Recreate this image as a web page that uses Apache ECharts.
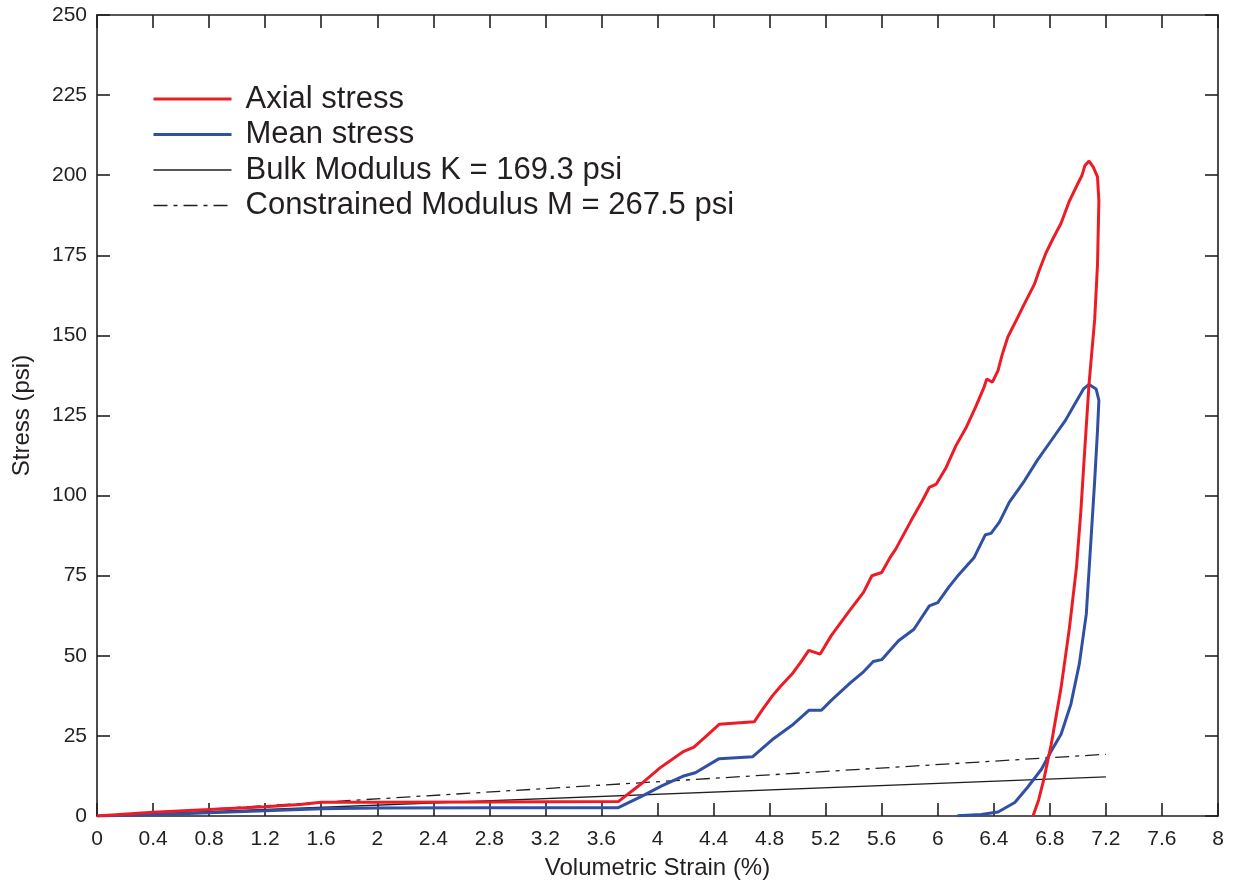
<!DOCTYPE html>
<html>
<head>
<meta charset="utf-8">
<script src="https://cdn.jsdelivr.net/npm/echarts@6/dist/echarts.min.js"></script>
<style>
html,body{margin:0;padding:0;background:#fff;}
#chart{width:1235px;height:886px;}
</style>
</head>
<body>
<div id="chart"></div>
<script>
// ---- data (x = volumetric strain %, y = stress psi) ----
var axialStress = [
  [0,0],[0.4,1.2],[0.8,2.0],[1.2,2.9],[1.45,3.6],[1.6,4.3],[2.0,4.3],[2.8,4.4],[3.72,4.5],
  [3.88,9.9],[4.02,15.1],[4.18,20.0],[4.26,21.5],[4.35,25],[4.44,28.6],[4.69,29.4],[4.75,33.3],
  [4.82,37.5],[4.88,40.6],[4.96,44.3],[5.02,47.9],[5.08,51.7],[5.16,50.5],[5.24,56.3],[5.36,63.5],
  [5.47,69.8],[5.53,75],[5.6,76],[5.66,80.7],[5.70,83.3],[5.81,92.2],[5.89,98.4],[5.94,102.6],
  [5.99,103.6],[6.06,108.8],[6.13,115.6],[6.2,121],[6.27,127.6],[6.33,133.8],[6.35,136.4],
  [6.39,135.4],[6.43,139],[6.46,144],[6.5,149.5],[6.56,154.7],[6.62,160],[6.69,166],[6.72,169.8],
  [6.77,175.5],[6.82,180],[6.88,185],[6.94,192],[7.0,197.4],[7.03,200],[7.05,203],[7.08,204.4],
  [7.11,202.5],[7.14,199.5],[7.15,192],[7.14,172],[7.12,155],[7.08,135],[7.05,115],[7.02,94.3],
  [6.99,77.6],[6.94,58.8],[6.88,40],[6.81,22.4],[6.76,12],[6.72,5],[6.68,0]
];
var meanStress = [
  [0,0],[0.4,0.4],[0.8,1.0],[1.2,1.6],[1.6,2.3],[2.0,2.5],[2.8,2.6],[3.72,2.6],[3.89,6.2],
  [4.03,9.4],[4.18,12.4],[4.27,13.5],[4.44,17.9],[4.68,18.5],[4.83,24.2],[4.96,28.3],[5.08,33],
  [5.17,33],[5.24,36.1],[5.38,41.7],[5.47,45],[5.54,48.2],[5.6,48.8],[5.72,54.7],[5.83,58.3],
  [5.94,65.6],[6.0,66.6],[6.08,71.5],[6.14,74.8],[6.26,80.7],[6.34,87.8],[6.38,88.2],[6.44,91.7],
  [6.51,97.9],[6.62,104.7],[6.71,111],[6.81,117.2],[6.91,123.4],[6.97,128],[7.04,133.3],
  [7.08,134.7],[7.13,133.3],[7.15,129.7],[7.14,120.3],[7.12,104.7],[7.09,83.8],[7.06,63],
  [7.01,47.4],[6.95,34.9],[6.88,25.5],[6.81,20.3],[6.74,14.6],[6.64,8.9],[6.55,4.2],[6.43,1.25],
  [6.31,0.5],[6.14,0.1]
];
var bulkModulusLine = [[0,0],[7.2,12.19]];
var constrainedModulusLine = [[0,0],[7.2,19.26]];
var seriesNames = ['Axial stress','Mean stress','Bulk Modulus K = 169.3 psi','Constrained Modulus M = 267.5 psi'];
var xTitle = 'Volumetric Strain (%)';
var yTitle = 'Stress (psi)';

var FONT = "'Liberation Sans', Arial, Helvetica, sans-serif";
var AX = '#231F20';
var RED = '#ED1C24', BLUE = '#3050A5';
var chart = echarts.init(document.getElementById('chart'), null, {renderer:'canvas'});

function axisCommon(show){
  return {
    axisLine:{show:true,onZero:false,lineStyle:{color:AX,width:1.6}},
    axisTick:{show:true,inside:true,length:13,lineStyle:{color:AX,width:1.6}},
    splitLine:{show:false},
    axisLabel:{show:show,color:AX,fontFamily:FONT,fontSize:21}
  };
}

var option = {
  animation:false,
  backgroundColor:'#fff',
  grid:{left:97,top:15,width:1121,height:801,containLabel:false},
  legend:{
    show:true,
    orient:'vertical',left:147,top:78,
    itemWidth:78,itemHeight:14,itemGap:3.5,
    itemStyle:{opacity:0},
    textStyle:{fontFamily:FONT,fontSize:31,color:AX,lineHeight:32,padding:[0,0,0,9]},
    data:[
      {name:seriesNames[0],lineStyle:{color:RED,width:3}},
      {name:seriesNames[1],lineStyle:{color:BLUE,width:3}},
      {name:seriesNames[2],lineStyle:{color:AX,width:1.3}},
      {name:seriesNames[3],lineStyle:{color:AX,width:1.3,type:[14,6,4,6]}}
    ]
  },
  xAxis:[
    Object.assign({type:'value',min:0,max:8,interval:0.4,position:'bottom',
      name:xTitle,nameLocation:'middle',nameGap:40,
      nameTextStyle:{fontFamily:FONT,fontSize:24,color:AX}}, axisCommon(true),
      {axisLabel:{show:true,color:AX,fontFamily:FONT,fontSize:21,margin:13}}),
    Object.assign({type:'value',min:0,max:8,interval:0.4,position:'top'}, axisCommon(false))
  ],
  yAxis:[
    Object.assign({type:'value',min:0,max:250,interval:25,position:'left',
      name:yTitle,nameLocation:'middle',nameGap:63,
      nameTextStyle:{fontFamily:FONT,fontSize:24,color:AX}}, axisCommon(true),
      {axisLabel:{show:true,color:AX,fontFamily:FONT,fontSize:21,margin:10}}),
    Object.assign({type:'value',min:0,max:250,interval:25,position:'right'}, axisCommon(false))
  ],
  series:[
    {name:seriesNames[0],type:'line',data:axialStress,showSymbol:false,symbol:'none',
      lineStyle:{color:RED,width:3},itemStyle:{color:RED},z:4},
    {name:seriesNames[1],type:'line',data:meanStress,showSymbol:false,symbol:'none',
      lineStyle:{color:BLUE,width:3},itemStyle:{color:BLUE},z:3},
    {name:seriesNames[2],type:'line',data:bulkModulusLine,showSymbol:false,symbol:'none',
      lineStyle:{color:AX,width:1.3},itemStyle:{color:AX},z:2},
    {name:seriesNames[3],type:'line',data:constrainedModulusLine,showSymbol:false,symbol:'none',
      lineStyle:{color:AX,width:1.3,type:[14,6,4,6]},itemStyle:{color:AX},z:2}
  ]
};
chart.setOption(option);
</script>
</body>
</html>
